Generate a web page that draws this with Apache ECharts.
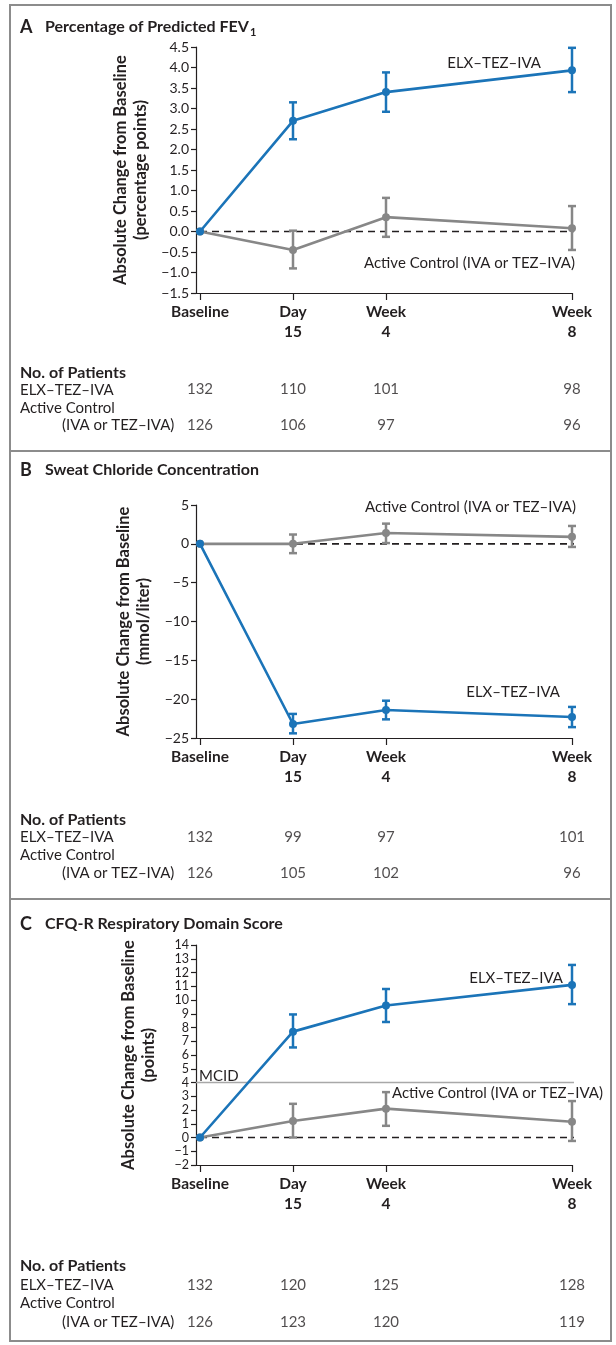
<!DOCTYPE html>
<html><head><meta charset="utf-8">
<script src="https://cdn.jsdelivr.net/npm/echarts@6/dist/echarts.min.js"></script>
<style>html,body{margin:0;padding:0;background:#fff}#c{width:616px;height:1345px}</style>
</head><body><div id="c"></div>
<script>
// ---------- data ----------
const timePoints = [0, 2, 4, 8];            // weeks
const tickLabels = ['Baseline', 'Day\n15', 'Week\n4', 'Week\n8'];

const fevElxMean = [0, 2.70, 3.40, 3.93];
const fevElxLow  = [0, 2.25, 2.92, 3.40];
const fevElxHigh = [0, 3.15, 3.88, 4.48];
const fevCtlMean = [0, -0.45, 0.35, 0.08];
const fevCtlLow  = [0, -0.90, -0.13, -0.45];
const fevCtlHigh = [0, 0.02, 0.82, 0.62];
const fevNElx = [132, 110, 101, 98];
const fevNCtl = [126, 106, 97, 96];

const swElxMean = [0, -23.2, -21.4, -22.3];
const swElxLow  = [0, -24.4, -22.6, -23.6];
const swElxHigh = [0, -21.9, -20.2, -21.0];
const swCtlMean = [0, 0.0, 1.4, 0.9];
const swCtlLow  = [0, -1.2, 0.1, -0.4];
const swCtlHigh = [0, 1.2, 2.6, 2.3];
const swNElx = [132, 99, 97, 101];
const swNCtl = [126, 105, 102, 96];

const cfElxMean = [0, 7.7, 9.6, 11.1];
const cfElxLow  = [0, 6.55, 8.4, 9.7];
const cfElxHigh = [0, 8.95, 10.8, 12.55];
const cfCtlMean = [0, 1.2, 2.1, 1.15];
const cfCtlLow  = [0, 0.0, 0.85, -0.25];
const cfCtlHigh = [0, 2.45, 3.3, 2.65];
const cfNElx = [132, 120, 125, 128];
const cfNCtl = [126, 123, 120, 119];
const mcidValue = 4;

// ---------- styles ----------
const FONT = 'Lato, "Open Sans", sans-serif';
const BLUE = '#1b74b8';
const GRAY = '#878787';
const INK = '#231f20';
const XMIN = -0.086, XMAX = 8, XLINE_END = 8.17;

function minus(s){ return s.replace('-', '\u2212'); }

function errRender(color){
  return function(params, api){
    const x = api.value(0), lo = api.value(1), hi = api.value(2);
    if (lo === hi) return;
    const p1 = api.coord([x, lo]), p2 = api.coord([x, hi]);
    const w = 4;
    const st = {stroke: color, lineWidth: 2.5};
    return {type: 'group', children: [
      {type: 'line', shape: {x1: p1[0], y1: p1[1], x2: p2[0], y2: p2[1]}, style: st},
      {type: 'line', shape: {x1: p1[0]-w, y1: p1[1], x2: p1[0]+w, y2: p1[1]}, style: st},
      {type: 'line', shape: {x1: p2[0]-w, y1: p2[1], x2: p2[0]+w, y2: p2[1]}, style: st}
    ]};
  };
}

const grids = [], xAxes = [], yAxes = [], series = [];

function addPanel(cfg){
  const gi = grids.length;
  grids.push({left: 196, width: 376, top: cfg.top, height: cfg.height, containLabel: false});
  xAxes.push({
    gridIndex: gi, type: 'value', min: XMIN, max: XMAX,
    splitLine: {show: false},
    axisLine: {show: true, onZero: false, lineStyle: {color: INK, width: 1.2}},
    axisTick: {show: true, customValues: timePoints, length: 7, lineStyle: {color: INK, width: 1.2}},
    axisLabel: {show: true, customValues: timePoints,
      formatter: v => tickLabels[timePoints.indexOf(v)],
      fontFamily: FONT, fontWeight: 'bold', fontSize: 15.5, color: INK, lineHeight: 20, margin: 9}
  });
  yAxes.push({
    gridIndex: gi, type: 'value', min: cfg.ymin, max: cfg.ymax, interval: cfg.interval,
    splitLine: {show: false},
    axisLine: {show: true, onZero: false, lineStyle: {color: INK, width: 1.2}},
    axisTick: {show: true, length: 5, lineStyle: {color: INK, width: 1.2}},
    axisLabel: {fontFamily: FONT, fontSize: cfg.labelSize || 14, lineHeight: 11, color: INK, margin: 7,
      showMinLabel: true, showMaxLabel: true, hideOverlap: false,
      formatter: v => minus(cfg.decimals ? v.toFixed(cfg.decimals) : String(Math.round(v)))},
    name: cfg.yname, nameLocation: 'middle', nameRotate: 90, nameGap: cfg.nameGap,
    nameTextStyle: {fontFamily: FONT, fontWeight: 'bold', fontSize: 16.5, color: INK, lineHeight: 20}
  });
  // dashed zero line
  series.push({type: 'line', xAxisIndex: gi, yAxisIndex: gi, data: [[0, 0], [XLINE_END, 0]],
    symbol: 'none', clip: false, silent: true, z: 1,
    lineStyle: {color: INK, width: 1.7, type: [7, 5]}});
  if (cfg.mcid !== undefined){
    series.push({type: 'line', xAxisIndex: gi, yAxisIndex: gi, data: [[XMIN, cfg.mcid], [XLINE_END + 0.1, cfg.mcid]],
      symbol: 'none', clip: false, silent: true, z: 1,
      lineStyle: {color: '#a8a8a8', width: 1.5}});
  }
  const groups = [
    {mean: cfg.ctlMean, lo: cfg.ctlLow, hi: cfg.ctlHigh, color: GRAY},
    {mean: cfg.elxMean, lo: cfg.elxLow, hi: cfg.elxHigh, color: BLUE}
  ];
  groups.forEach((g, k) => {
    series.push({type: 'custom', xAxisIndex: gi, yAxisIndex: gi, renderItem: errRender(g.color),
      data: timePoints.map((t, j) => [t, g.lo[j], g.hi[j]]), z: 2 + k*2, silent: true});
    series.push({type: 'line', xAxisIndex: gi, yAxisIndex: gi,
      data: timePoints.map((t, j) => [t, g.mean[j]]),
      symbol: 'circle', symbolSize: 8, z: 3 + k*2, silent: true,
      lineStyle: {color: g.color, width: 2.6}, itemStyle: {color: g.color}});
  });
  // patient table
  const ti = grids.length;
  grids.push({left: 196, width: 376, top: cfg.rowTop, height: cfg.rowGap});
  xAxes.push({gridIndex: ti, type: 'value', min: XMIN, max: XMAX, show: false});
  yAxes.push({gridIndex: ti, type: 'value', min: 0, max: 1, show: false});
  series.push({type: 'scatter', xAxisIndex: ti, yAxisIndex: ti, symbolSize: 1, silent: true,
    itemStyle: {color: 'rgba(0,0,0,0)'},
    data: timePoints.map((t, j) => [t, 1, cfg.nElx[j]]).concat(timePoints.map((t, j) => [t, 0, cfg.nCtl[j]])),
    label: {show: true, position: 'inside', formatter: p => String(p.value[2]),
      fontFamily: FONT, fontSize: 15, color: INK}});
}

addPanel({top: 47, height: 246, ymin: -1.5, ymax: 4.5, interval: 0.5, decimals: 1,
  yname: 'Absolute Change from Baseline\n(percentage points)', nameGap: 32,
  elxMean: fevElxMean, elxLow: fevElxLow, elxHigh: fevElxHigh,
  ctlMean: fevCtlMean, ctlLow: fevCtlLow, ctlHigh: fevCtlHigh,
  nElx: fevNElx, nCtl: fevNCtl, rowTop: 389, rowGap: 36});
addPanel({top: 505, height: 233, ymin: -25, ymax: 5, interval: 5, decimals: 0,
  yname: 'Absolute Change from Baseline\n(mmol/liter)', nameGap: 32,
  elxMean: swElxMean, elxLow: swElxLow, elxHigh: swElxHigh,
  ctlMean: swCtlMean, ctlLow: swCtlLow, ctlHigh: swCtlHigh,
  nElx: swNElx, nCtl: swNCtl, rowTop: 837, rowGap: 36});
addPanel({top: 945, height: 220, ymin: -2, ymax: 14, interval: 1, decimals: 0, mcid: mcidValue, labelSize: 12.5,
  yname: 'Absolute Change from Baseline\n(points)', nameGap: 37,
  elxMean: cfElxMean, elxLow: cfElxLow, elxHigh: cfElxHigh,
  ctlMean: cfCtlMean, ctlLow: cfCtlLow, ctlHigh: cfCtlHigh,
  nElx: cfNElx, nCtl: cfNCtl, rowTop: 1285, rowGap: 37});

// ---------- texts ----------
function txt(x, y, s, o){
  o = o || {};
  return {type: 'text', x: x, y: y, silent: true, z: 10,
    style: {text: s, fill: INK, font: (o.bold ? 'bold ' : '') + (o.size || 15) + 'px ' + FONT,
      textAlign: o.align || 'left', textVerticalAlign: 'middle'}};
}
const graphics = [
  {type: 'rect', shape: {x: 10, y: 5, width: 601, height: 1336}, style: {fill: 'none', stroke: '#8c8c8c', lineWidth: 2}, silent: true},
  {type: 'line', shape: {x1: 10, y1: 451, x2: 611, y2: 451}, style: {stroke: '#8c8c8c', lineWidth: 2}, silent: true},
  {type: 'line', shape: {x1: 10, y1: 899, x2: 611, y2: 899}, style: {stroke: '#8c8c8c', lineWidth: 2}, silent: true}
];
const titles = [
  ['A', 27, 'Percentage of Predicted FEV'],
  ['B', 470, 'Sweat Chloride Concentration'],
  ['C', 924, 'CFQ-R Respiratory Domain Score']
];
titles.forEach(t => {
  graphics.push(txt(20, t[1], t[0], {bold: true, size: 18}));
  graphics.push(txt(45, t[1], t[2], {bold: true, size: 16}));
});
graphics.push({type: 'text', x: 250, y: 32, silent: true,
  style: {text: '1', fill: INK, font: 'bold 11px ' + FONT, textVerticalAlign: 'middle'}});

const tables = [[373, 390, 408, 425], [820, 837, 855, 873], [1266, 1285, 1303, 1322]];
tables.forEach(r => {
  graphics.push(txt(20, r[0], 'No. of Patients', {bold: true, size: 16}));
  graphics.push(txt(20, r[1], 'ELX\u2013TEZ\u2013IVA'));
  graphics.push(txt(20, r[2], 'Active Control'));
  graphics.push(txt(62, r[3], '(IVA or TEZ\u2013IVA)'));
});
const CTL = 'Active Control (IVA or TEZ\u2013IVA)';
const ELX = 'ELX\u2013TEZ\u2013IVA';
graphics.push(txt(541, 63, ELX, {align: 'right'}));
graphics.push(txt(364, 263, CTL));
graphics.push(txt(365, 507, CTL));
graphics.push(txt(560, 692, ELX, {align: 'right'}));
graphics.push(txt(563, 978, ELX, {align: 'right'}));
graphics.push(txt(392, 1093, CTL));
graphics.push(txt(199, 1076, 'MCID'));

const chart = echarts.init(document.getElementById('c'), null, {renderer: 'canvas'});
chart.setOption({
  animation: false,
  backgroundColor: '#fff',
  grid: grids, xAxis: xAxes, yAxis: yAxes, series: series,
  graphic: graphics
});
</script></body></html>
